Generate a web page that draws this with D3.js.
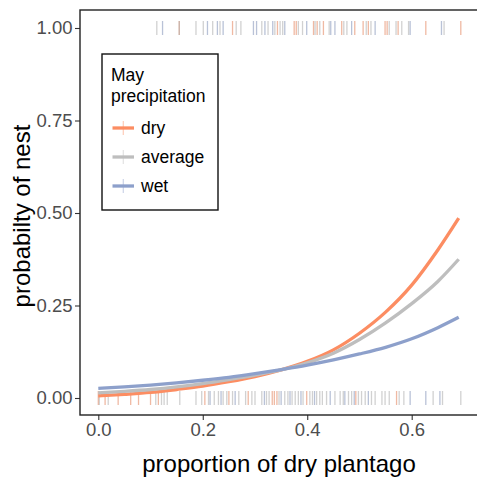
<!DOCTYPE html>
<html>
<head>
<meta charset="utf-8">
<script src="https://cdn.jsdelivr.net/npm/d3@7"></script>
<style>
  body { margin: 0; background: #fff; }
  svg { display: block; font-family: "Liberation Sans", Arial, sans-serif; }
</style>
</head>
<body>
<div id="chart"></div>
<script>
// fitted curves
const xGrid = [0, 0.05, 0.1, 0.15, 0.2, 0.25, 0.3, 0.35, 0.4, 0.45, 0.5, 0.55, 0.6, 0.65, 0.69];
const fitDry = [0.006, 0.010, 0.015, 0.023, 0.032, 0.044, 0.058, 0.076, 0.099, 0.130, 0.175, 0.232, 0.305, 0.400, 0.486];
const fitAvg = [0.014, 0.018, 0.023, 0.030, 0.039, 0.050, 0.062, 0.076, 0.095, 0.121, 0.158, 0.203, 0.255, 0.315, 0.375];
const fitWet = [0.026, 0.030, 0.035, 0.041, 0.048, 0.056, 0.066, 0.077, 0.089, 0.103, 0.119, 0.137, 0.160, 0.190, 0.218];

// observations with a nest (y = 1)
const nestDry = [0.155, 0.257, 0.343, 0.375, 0.379, 0.412, 0.419, 0.431, 0.466, 0.491, 0.507, 0.517, 0.549, 0.553, 0.574, 0.627, 0.694];
const nestAvg = [0.112, 0.155, 0.187, 0.201, 0.219, 0.233, 0.264, 0.273, 0.313, 0.325, 0.338, 0.348, 0.353, 0.383, 0.391, 0.415, 0.424, 0.442, 0.470, 0.476, 0.513, 0.522, 0.557, 0.570, 0.581, 0.594, 0.662];
const nestWet = [0.123, 0.209, 0.228, 0.239, 0.297, 0.303, 0.319, 0.334, 0.357, 0.399, 0.445, 0.453, 0.485, 0.530, 0.597, 0.657];

// observations without a nest (y = 0)
const noneDry = [0.000, 0.013, 0.038, 0.062, 0.077, 0.100, 0.115, 0.204, 0.250, 0.287, 0.333, 0.337, 0.342, 0.399, 0.493, 0.571];
const noneAvg = [0.002, 0.019, 0.110, 0.121, 0.126, 0.132, 0.156, 0.187, 0.198, 0.211, 0.222, 0.230, 0.239, 0.246, 0.257, 0.269, 0.282, 0.294, 0.300, 0.313, 0.322, 0.327, 0.346, 0.357, 0.363, 0.371, 0.377, 0.383, 0.392, 0.405, 0.410, 0.418, 0.424, 0.429, 0.437, 0.453, 0.463, 0.469, 0.479, 0.485, 0.498, 0.504, 0.511, 0.523, 0.530, 0.543, 0.549, 0.557, 0.576, 0.585, 0.641, 0.659, 0.694];
const noneWet = [0.214, 0.235, 0.262, 0.318, 0.350, 0.367, 0.388, 0.414, 0.444, 0.472, 0.490, 0.517, 0.597, 0.627, 0.654];

const groups = ["dry", "average", "wet"];
const colours = ["#FC8D62", "#BEBEBE", "#8DA0CB"];
const xTicks = [0, 0.2, 0.4, 0.6];
const yTicks = [0, 0.25, 0.5, 0.75, 1];

const width = 477, height = 482;
const panel = {left: 80, top: 10, right: 478, bottom: 415};

const x = d3.scaleLinear().domain([0, 0.6]).range([98.3, 411.7]);
const y = d3.scaleLinear().domain([0, 1]).range([398, 28]);
const color = d3.scaleOrdinal(groups, colours);

const svg = d3.select("#chart").append("svg")
    .attr("width", width)
    .attr("height", height);

// rug-like points
const obs = [];
[[nestDry, "dry", 1], [nestAvg, "average", 1], [nestWet, "wet", 1],
 [noneDry, "dry", 0], [noneAvg, "average", 0], [noneWet, "wet", 0]]
  .forEach(([arr, g, v]) => arr.forEach(d => obs.push({x: d, y: v, group: g})));

svg.append("g")
  .selectAll("line")
  .data(obs)
  .join("line")
    .attr("x1", d => x(d.x))
    .attr("x2", d => x(d.x))
    .attr("y1", d => y(d.y) - 7)
    .attr("y2", d => y(d.y) + 7)
    .attr("stroke", d => d3.color(color(d.group)).darker(0.3))
    .attr("stroke-width", 1.3)
    .attr("stroke-opacity", 0.55);

// fitted lines
const fits = [fitDry, fitAvg, fitWet];
const line = d3.line()
    .x(d => x(d[0]))
    .y(d => y(d[1]))
    .curve(d3.curveMonotoneX);

svg.append("g")
  .selectAll("path")
  .data(groups)
  .join("path")
    .attr("fill", "none")
    .attr("stroke", d => color(d))
    .attr("stroke-width", 3.3)
    .attr("d", (d, i) => line(xGrid.map((xv, j) => [xv, fits[i][j]])));

// axes
const yAxis = svg.append("g")
    .attr("transform", `translate(${panel.left},0)`)
    .call(d3.axisLeft(y).tickValues(yTicks).tickFormat(d3.format(".2f")).tickSize(5).tickPadding(2.5));
const xAxis = svg.append("g")
    .attr("transform", `translate(0,${panel.bottom})`)
    .call(d3.axisBottom(x).tickValues(xTicks).tickFormat(d3.format(".1f")).tickSize(5).tickPadding(3));

[yAxis, xAxis].forEach(a => {
  a.select(".domain").remove();
  a.selectAll(".tick line").attr("stroke", "#333").attr("stroke-width", 1.1);
  a.selectAll(".tick text")
    .attr("fill", "#4d4d4d")
    .attr("font-size", 18.5)
    .attr("font-family", "Liberation Sans, Arial, sans-serif");
});

// panel outline
svg.append("rect")
    .attr("x", panel.left)
    .attr("y", panel.top)
    .attr("width", panel.right - panel.left)
    .attr("height", panel.bottom - panel.top)
    .attr("fill", "none")
    .attr("stroke", "#222")
    .attr("stroke-width", 1.4);

// axis titles
svg.append("text")
    .attr("x", 279)
    .attr("y", 472)
    .attr("text-anchor", "middle")
    .attr("font-size", 24)
    .text("proportion of dry plantago");

svg.append("text")
    .attr("transform", "translate(29.5,216) rotate(-90)")
    .attr("text-anchor", "middle")
    .attr("font-size", 24)
    .text("probabilty of nest");

// legend
const legend = svg.append("g");
legend.append("rect")
    .attr("x", 102)
    .attr("y", 54)
    .attr("width", 116)
    .attr("height", 156)
    .attr("fill", "#fff")
    .attr("stroke", "#111")
    .attr("stroke-width", 1.4);

legend.append("text")
    .attr("font-size", 17.5)
  .selectAll("tspan")
  .data(["May", "precipitation"])
  .join("tspan")
    .attr("x", 111)
    .attr("y", (d, i) => 81 + i * 21)
    .text(d => d);

const item = legend.selectAll("g.item")
  .data(groups)
  .join("g")
    .attr("class", "item")
    .attr("transform", (d, i) => `translate(0,${128 + i * 29})`);

item.append("line")
    .attr("x1", 123.3).attr("x2", 123.3)
    .attr("y1", -7).attr("y2", 7)
    .attr("stroke", d => color(d))
    .attr("stroke-width", 1.2)
    .attr("stroke-opacity", 0.45);

item.append("line")
    .attr("x1", 112.5).attr("x2", 134)
    .attr("y1", 0).attr("y2", 0)
    .attr("stroke", d => color(d))
    .attr("stroke-width", 3.3);

item.append("text")
    .attr("x", 141)
    .attr("y", 6)
    .attr("font-size", 17.5)
    .text(d => d);
</script>
</body>
</html>
